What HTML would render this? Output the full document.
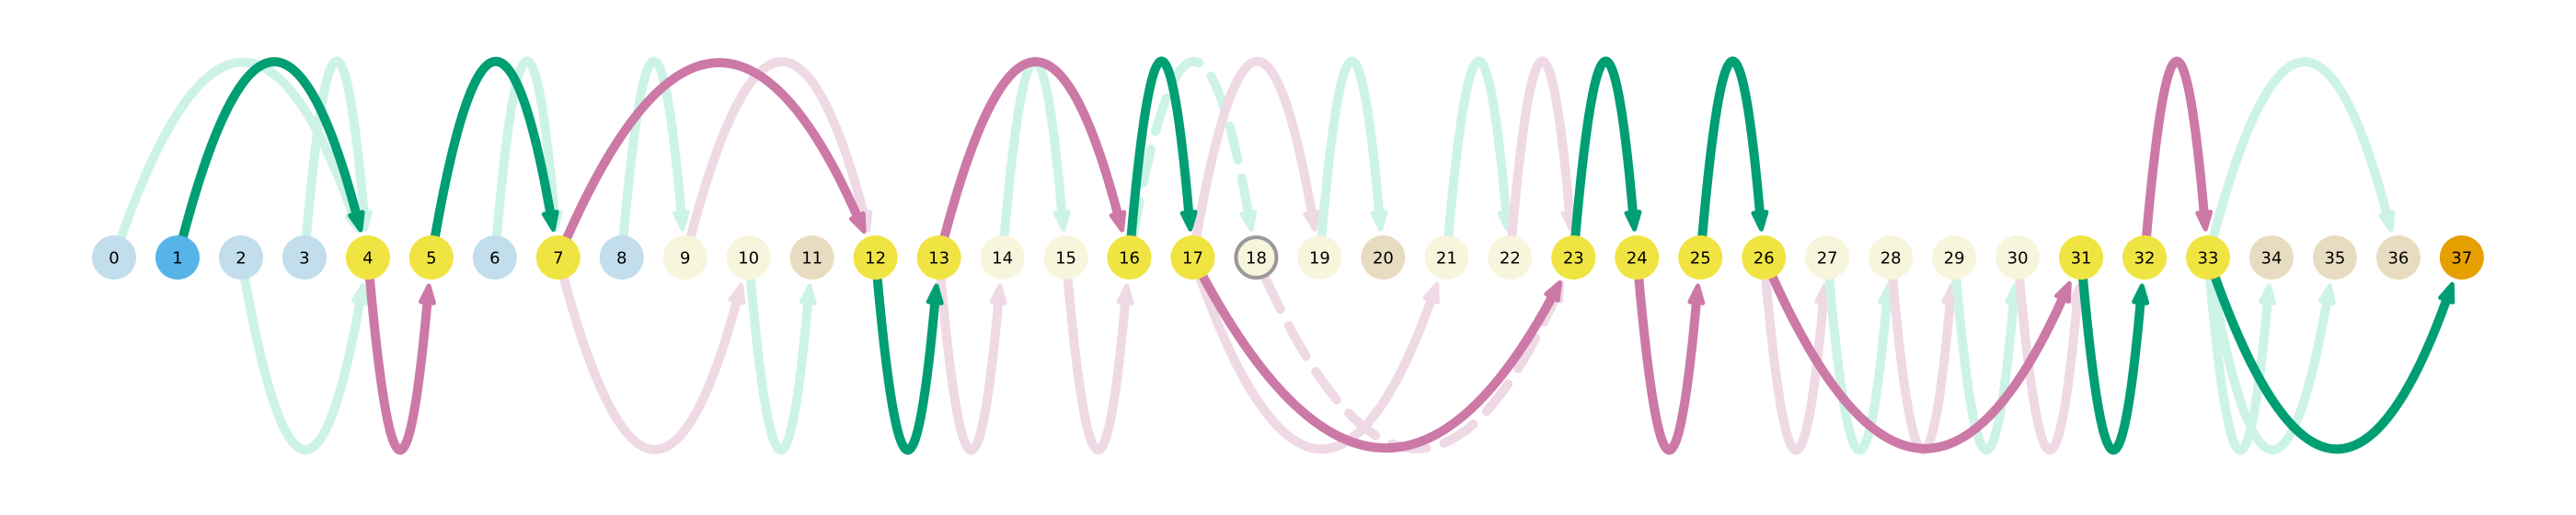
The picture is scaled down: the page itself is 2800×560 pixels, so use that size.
<!DOCTYPE html>
<html><head><meta charset="utf-8">
<style>
html,body{margin:0;padding:0;background:#fff;}
svg{display:block;}
text{font-family:"DejaVu Sans","Liberation Sans",sans-serif;}
</style></head>
<body>
<svg id="chart" width="2800" height="560" viewBox="0 0 2800 560" xmlns="http://www.w3.org/2000/svg">
<g id="edges"></g>
<g id="nodes"></g>
</svg>
<script>
// Node categories (color class per node index 0..37)
const nodeKinds = ["lb","b","lb","lb","y","y","lb","y","lb","c","c","t","y","y","c","c","y","y","r","c","t","c","c","y","y","y","y","c","c","c","c","y","y","y","t","t","t","o"];
// Edges
const edgeFrom  = [0,1,3,5,6,7,8,9,2,4,7,10,12,13,14,16,16,17,19,21,22,23,25,13,15,17,17,18,24,26,26,27,28,29,30,31,32,33,33,33,33];
const edgeTo    = [4,4,4,7,7,12,9,12,4,5,10,11,13,16,15,17,18,19,20,22,23,24,26,14,16,21,23,23,25,27,31,28,29,30,31,32,33,36,34,35,37];
const edgeSide  = ["t","t","t","t","t","t","t","t","b","b","b","b","b","t","t","t","t","t","t","t","t","t","t","b","b","b","b","b","b","b","b","b","b","b","b","b","t","t","b","b","b"];
const edgeStyle = ["fg","G","fg","G","fg","P","fg","fp","fg","P","fp","fg","G","P","fg","G","fgd","fp","fg","fg","fp","G","G","fp","fp","fp","P","fpd","P","fp","P","fg","fp","fg","fp","G","P","fg","fg","fg","G"];

const X0 = 124, DX = 68.97, CY = 280, R = 24;
const xOf = i => X0 + i * DX;
const colors = {lb:"#C2DDEB", b:"#56B4E9", y:"#F0E442", c:"#F7F5DC", t:"#E8DCC0", o:"#E69F00", r:"#F7F5DC"};
const strokeCol = {fg:"#CDF3E7", fgd:"#CDF3E7", fp:"#EFD9E5", fpd:"#EFD9E5", G:"#009E73", P:"#CC79A7"};
const NS = "http://www.w3.org/2000/svg";
const eg = document.getElementById("edges"), ng = document.getElementById("nodes");

function drawEdge(k) {
  const x1 = xOf(edgeFrom[k]), x2 = xOf(edgeTo[k]);
  const top = edgeSide[k] === "t";
  const cx = (x1 + x2) / 2, cyc = top ? -110 : 662;
  const unit = (ax, ay) => { const dx = cx - ax, dy = cyc - ay, n = Math.hypot(dx, dy); return [dx / n, dy / n]; };
  const [ux1, uy1] = unit(x1, CY), [ux2, uy2] = unit(x2, CY);
  const sx = x1 + ux1 * R, sy = CY + uy1 * R;
  const tx = x2 + ux2 * 31, ty = CY + uy2 * 31;
  const AL = 18;
  const bx = tx + ux2 * AL, by = ty + uy2 * AL;
  const col = strokeCol[edgeStyle[k]];
  const path = document.createElementNS(NS, "path");
  path.setAttribute("d", `M${sx},${sy} Q${cx},${cyc} ${bx},${by}`);
  path.setAttribute("fill", "none");
  path.setAttribute("stroke", col);
  path.setAttribute("stroke-width", "10");
  path.setAttribute("stroke-linecap", "round");
  if (edgeStyle[k].endsWith("d")) path.setAttribute("stroke-dasharray", "38 20");
  
  
  eg.appendChild(path);
  const px = -uy2, py = ux2, W = 7;
  const poly = document.createElementNS(NS, "polygon");
  poly.setAttribute("points", `${tx},${ty} ${bx + px * W},${by + py * W} ${bx - px * W},${by - py * W}`);
  poly.setAttribute("fill", col);
  poly.setAttribute("stroke", col);
  poly.setAttribute("stroke-width", "5");
  poly.setAttribute("stroke-linejoin", "round");
  
  
  eg.appendChild(poly);
}
const order = [];
edgeStyle.forEach((s, k) => { if (s.startsWith("f")) order.push(k); });
edgeStyle.forEach((s, k) => { if (!s.startsWith("f")) order.push(k); });
order.forEach(drawEdge);

nodeKinds.forEach((kind, i) => {
  const g = document.createElementNS(NS, "g");
  
  
  const c = document.createElementNS(NS, "circle");
  c.setAttribute("cx", xOf(i)); c.setAttribute("cy", CY);
  c.setAttribute("r", kind === "r" ? R - 2 : R);
  c.setAttribute("fill", colors[kind]);
  if (kind === "r") { c.setAttribute("stroke", "#999999"); c.setAttribute("stroke-width", "4"); }
  g.appendChild(c);
  const t = document.createElementNS(NS, "text");
  t.setAttribute("x", xOf(i)); t.setAttribute("y", CY + 6.5);
  t.setAttribute("text-anchor", "middle");
  t.setAttribute("font-size", "18");
  t.setAttribute("fill", "#000");
  t.textContent = i;
  g.appendChild(t);
  ng.appendChild(g);
});
</script>
</body></html>
